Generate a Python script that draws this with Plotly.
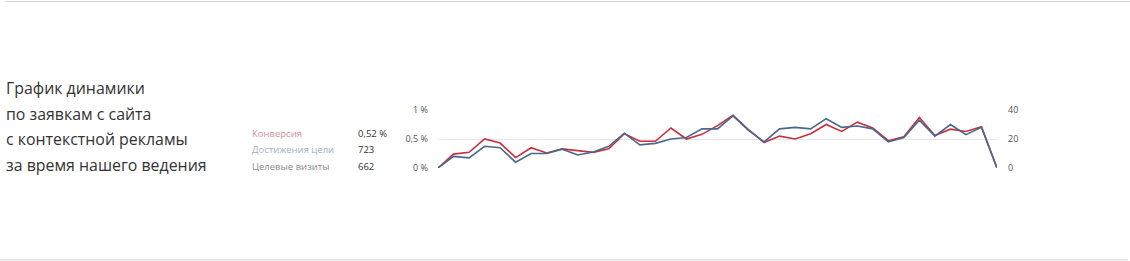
import plotly.graph_objects as go

# ---- data ----
points = list(range(37))
conversion_pct = [0, 0.24, 0.27, 0.50, 0.43, 0.18, 0.35, 0.26, 0.33, 0.30, 0.27, 0.33,
                  0.59, 0.46, 0.46, 0.69, 0.50, 0.58, 0.73, 0.91, 0.66, 0.44, 0.55, 0.50,
                  0.59, 0.75, 0.63, 0.79, 0.69, 0.47, 0.54, 0.87, 0.56, 0.67, 0.63, 0.71, 0]
goals = [0, 8, 7, 15, 14, 4, 10, 10, 13, 9, 11, 15, 24, 16, 17, 20, 21, 27, 27, 36, 26, 18,
         27, 28, 27, 34, 28, 29, 27, 18, 21, 33, 22, 30, 23, 28, 0]

left_tickvals = [0, 0.5, 1]
left_ticktext = ["0 %", "0,5 %", "1 %"]
right_tickvals = [0, 20, 40]
right_ticktext = ["0", "20", "40"]

title_lines = ["График динамики", "по заявкам с сайта", "с контекстной рекламы", "за время нашего ведения"]
legend_labels = ["Конверсия", "Достижения цели", "Целевые визиты"]
legend_values = ["0,52 %", "723", "662"]
legend_colors = ["#d4909b", "#a3b1bd", "#8c8c8c"]

# ---- layout geometry (pixels) ----
W, H = 1130, 261
L, R, T, B = 438, 997, 110, 168
pw, ph = R - L, B - T

def px(x):
    return (x - L) / pw

def py(y):
    return (B - y) / ph

fig = go.Figure()
fig.add_trace(go.Scatter(x=points, y=conversion_pct, mode="lines",
                         line=dict(color="#c9303c", width=1.6), yaxis="y",
                         hoverinfo="skip", showlegend=False))
fig.add_trace(go.Scatter(x=points, y=goals, mode="lines",
                         line=dict(color="#48698f", width=1.6), yaxis="y2",
                         hoverinfo="skip", showlegend=False))

annotations = []
for i, t in enumerate(title_lines):
    annotations.append(dict(text=t, x=px(4), y=py(88 + i * 25.7), xref="paper", yref="paper",
                            xanchor="left", yanchor="middle", showarrow=False,
                            font=dict(family="Open Sans", size=15.9, color="#333333")))
for i, (lab, val, col) in enumerate(zip(legend_labels, legend_values, legend_colors)):
    yy = py(133 + i * 16.5)
    annotations.append(dict(text=lab, x=px(250), y=yy, xref="paper", yref="paper",
                            xanchor="left", yanchor="middle", showarrow=False,
                            font=dict(family="Open Sans", size=9.5, color=col)))
    annotations.append(dict(text=val, x=px(356), y=yy, xref="paper", yref="paper",
                            xanchor="left", yanchor="middle", showarrow=False,
                            font=dict(family="Open Sans", size=9.5, color="#333333")))

shapes = [
    dict(type="line", xref="paper", yref="paper", x0=px(5), x1=px(1130), y0=py(1.5), y1=py(1.5),
         line=dict(color="#d6d6d6", width=1)),
    dict(type="line", xref="paper", yref="paper", x0=px(0), x1=px(1128), y0=py(260), y1=py(260),
         line=dict(color="#d6d6d6", width=1)),
]

fig.update_layout(
    width=W, height=H,
    margin=dict(l=L, r=W - R, t=T, b=H - B, pad=0),
    paper_bgcolor="white", plot_bgcolor="white",
    xaxis=dict(range=[0, 36], showgrid=False, zeroline=False, showticklabels=False,
               showline=False, fixedrange=True),
    yaxis=dict(range=[0, 1], tickvals=left_tickvals, ticktext=left_ticktext,
               showgrid=True, gridcolor="#e6e6e6", gridwidth=1, zeroline=False,
               ticks="", ticklabelstandoff=9,
               tickfont=dict(family="Open Sans", size=9, color="#555555")),
    yaxis2=dict(range=[0, 40], tickvals=right_tickvals, ticktext=right_ticktext,
                overlaying="y", side="right", showgrid=False, zeroline=False,
                ticks="", ticklabelstandoff=10,
                tickfont=dict(family="Open Sans", size=9, color="#555555")),
    annotations=annotations,
    shapes=shapes,
)

fig.write_html("out.html")
